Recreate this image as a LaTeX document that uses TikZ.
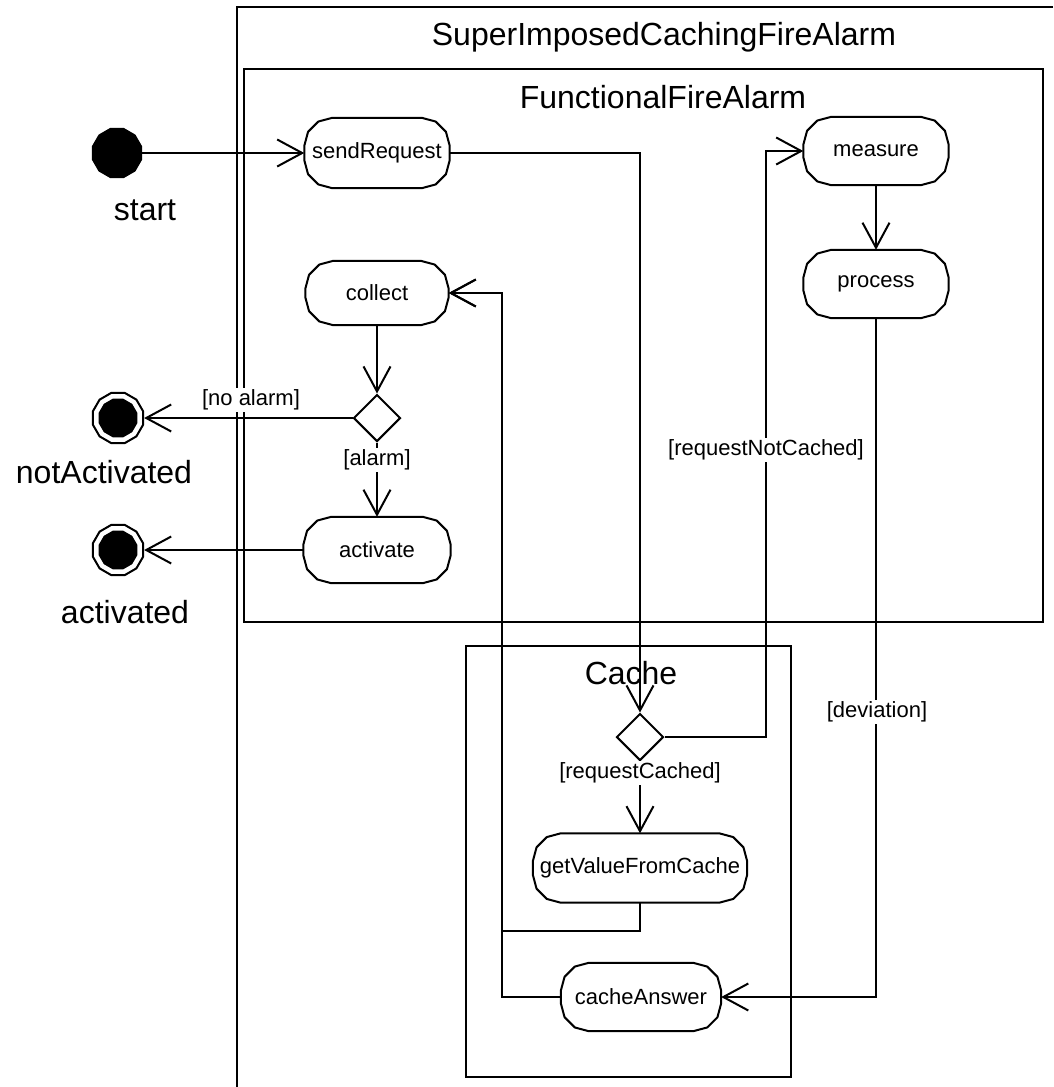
\documentclass[tikz,border=0pt]{standalone}
\usepackage{fontspec}
\setmainfont{Liberation Sans}
\usetikzlibrary{arrows.meta,shapes.geometric,calc}

% Outline of an action node: a rectangle whose corners are cut by three segments each
\newcommand\actoutline[1]{%
  \draw[line width=2pt, line join=round]
    ($(#1.north west)+(28,0)$) -- ($(#1.north east)+(-28,0)$)
    -- ++(14,-3.75) -- ++(10.25,-10.25) -- ++(3.75,-14)
    -- ($(#1.south east)+(0,28)$)
    -- ++(-3.75,-14) -- ++(-10.25,-10.25) -- ++(-14,-3.75)
    -- ($(#1.south west)+(28,0)$)
    -- ++(-14,3.75) -- ++(-10.25,10.25) -- ++(-3.75,14)
    -- ($(#1.north west)+(0,-28)$)
    -- ++(3.75,14) -- ++(10.25,10.25) -- cycle;}

\begin{document}
\begin{tikzpicture}[x=1pt,y=1pt,
  bigtxt/.style={font=\fontsize{32}{36}\selectfont},
  smalltxt/.style={font=\fontsize{22}{26}\selectfont},
  action/.style={rectangle, inner sep=0pt, smalltxt},
  decision/.style={diamond, draw, line width=2pt, aspect=1, minimum width=47pt,
    minimum height=47pt, inner sep=0pt, fill=white},
  initial/.style={regular polygon, regular polygon sides=12, fill=black,
    minimum size=52pt, inner sep=0pt},
  finalring/.style={regular polygon, regular polygon sides=12, draw, line width=2pt,
    fill=white, minimum size=52pt, inner sep=0pt},
  finaldot/.style={regular polygon, regular polygon sides=12, fill=black,
    minimum size=40pt, inner sep=0pt},
  flow/.style={line width=2pt, -{Straight Barb[length=25pt,width=27pt]}},
  guard/.style={smalltxt, fill=white, inner sep=2pt},
  frame/.style={draw, line width=2pt}
]
\useasboundingbox (0,0) rectangle (1053,-1087);

% containers
\draw[frame] (1053,-7) -- (237,-7) -- (237,-1087);
\draw[frame] (244,-69) rectangle (1043,-622);
\draw[frame] (466,-646) rectangle (791,-1077);
\node[bigtxt] (tOuter) at (664,-37) {SuperImposedCachingFireAlarm};
\node[bigtxt] (tFunc) at (663,-97) {FunctionalFireAlarm};
\node[bigtxt] (tCache) at (631,-673) {Cache};

% initial and final nodes
\node[initial] (start) at (117,-153) {};
\node[bigtxt] (startLbl) at (145,-210) {start};
\node[finalring] (notAct) at (118,-418) {};
\node[finaldot] (notActDot) at (118,-418) {};
\node[bigtxt] (notActLbl) at (104,-472) {notActivated};
\node[finalring] (act) at (118,-550) {};
\node[finaldot] (actDot) at (118,-550) {};
\node[bigtxt] (actLbl) at (125,-612) {activated};

% actions
\node[action, minimum width=145pt, minimum height=70pt] (send) at (377,-153) {sendRequest};
\node[action, minimum width=143pt, minimum height=64pt] (coll) at (377,-293) {collect};
\node[action, minimum width=147pt, minimum height=66pt] (activ) at (377,-550) {activate};
\node[action, minimum width=145pt, minimum height=68pt] (meas) at (876,-151) {measure};
\node[action, minimum width=145pt, minimum height=68pt] (proc) at (876,-284) {process};
\node[action, minimum width=214pt, minimum height=69pt] (gv) at (640,-868) {getValueFromCache};
\node[action, minimum width=160pt, minimum height=68pt] (ca) at (641,-997) {cacheAnswer};

% decisions
\node[decision] (dec1) at (377,-418) {};
\node[decision] (dec2) at (640,-737) {};

% control flows
\coordinate (bus) at (502,-293);
\draw[flow] (start) -- (send);
\draw[flow] (send.east) -| (dec2.north);
\draw[flow] (dec2.east) -- ++(101,0) |- (meas.west);
\draw[flow] (dec2.south) -- (gv.north);
\draw[flow] (gv.south) -- ++(0,-28) -| (bus) -- (coll.east);
\draw[flow] (ca.west) -| (bus) -- (coll.east);
\draw[flow] (meas) -- (proc);
\draw[flow] (proc.south) |- (ca.east);
\draw[flow] (coll.south) -- (dec1.north);
\draw[flow] (dec1.west) -- (notAct);
\draw[flow] (dec1.south) -- (activ.north);
\draw[flow] (activ.west) -- (act);

% action outlines
\foreach \n in {send,coll,activ,meas,proc,gv,ca} {\actoutline{\n}}

% guards
\node[guard] (gNoAlarm) at (251,-400) {[no alarm]};
\node[guard] (gAlarm) at (377,-460) {[alarm]};
\node[guard] (gNotCached) at (766,-450) {[requestNotCached]};
\node[guard] (gCached) at (640,-773) {[requestCached]};
\node[guard] (gDev) at (877,-712) {[deviation]};
\end{tikzpicture}
\end{document}
